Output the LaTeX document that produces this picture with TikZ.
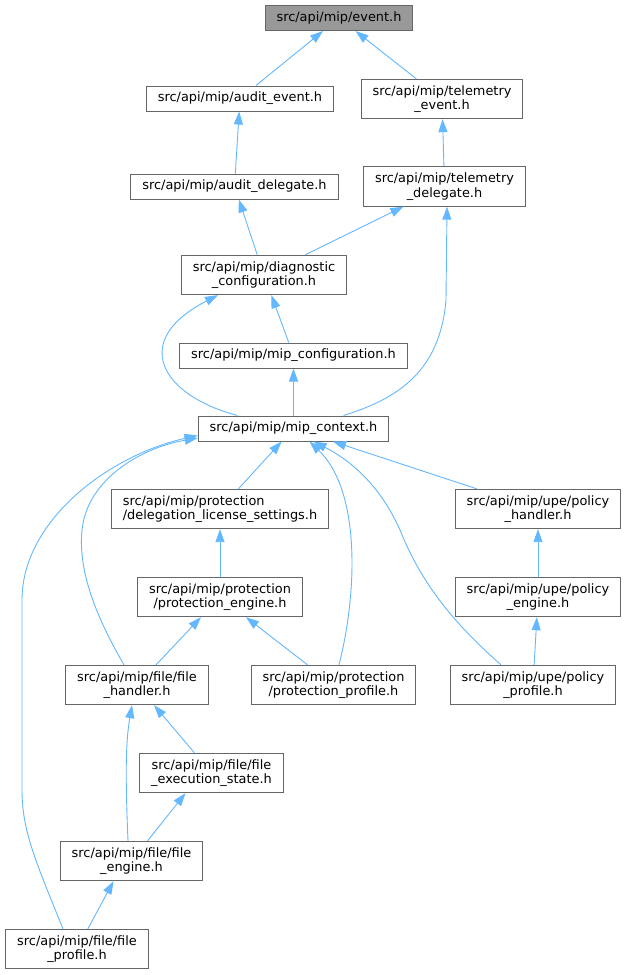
\documentclass[tikz,border=0pt]{standalone}
\usepackage{fontspec}
\setmainfont{DejaVu Sans}
\usepackage{xcolor}
\usetikzlibrary{arrows.meta}
\definecolor{edgeblue}{HTML}{63B8FF}
\definecolor{boxgray}{HTML}{666666}
\definecolor{rootfill}{HTML}{999999}

\begin{document}
\begin{tikzpicture}[x=1pt, y=-1pt,
    box/.style={draw=boxgray, line width=1pt, fill=white, inner xsep=11.5pt, inner ysep=6pt, minimum height=25pt, align=center, font=\fontsize{12.9}{14.5}\selectfont},
    rootbox/.style={box, fill=rootfill},
    dep/.style={-{Triangle[length=13pt, width=9pt, fill=edgeblue]}, draw=edgeblue, line width=0.9pt}
]
    \fill[white] (0,0) rectangle (625,975);
    \useasboundingbox (0,0) rectangle (625,975);

    % Headers (top to bottom)
    \node[rootbox] (event) at (339,18) {src/api/mip/event.h};
    \node[box] (aevt) at (240,98.5) {src/api/mip/audit\_event.h};
    \node[box] (tevt) at (442,99) {src/api/mip/telemetry\\\_event.h};
    \node[box] (adel) at (234.5,186.5) {src/api/mip/audit\_delegate.h};
    \node[box] (tdel) at (444.5,186.5) {src/api/mip/telemetry\\\_delegate.h};
    \node[box] (diag) at (264,275) {src/api/mip/diagnostic\\\_configuration.h};
    \node[box] (mcfg) at (293.5,355.5) {src/api/mip/mip\_configuration.h};
    \node[box] (ctx) at (293.5,428.5) {src/api/mip/mip\_context.h};
    \node[box, align=left] (dls) at (220,509) {src/api/mip/protection\\/delegation\_license\_settings.h};
    \node[box] (phdl) at (538,509) {src/api/mip/upe/policy\\\_handler.h};
    \node[box] (peng) at (220,597) {src/api/mip/protection\\/protection\_engine.h};
    \node[box] (ueng) at (538,597) {src/api/mip/upe/policy\\\_engine.h};
    \node[box] (fhdl) at (137,685) {src/api/mip/file/file\\\_handler.h};
    \node[box] (pprof) at (333.5,685) {src/api/mip/protection\\/protection\_profile.h};
    \node[box] (uprof) at (533,685) {src/api/mip/upe/policy\\\_profile.h};
    \node[box] (fexec) at (211.5,773) {src/api/mip/file/file\\\_execution\_state.h};
    \node[box] (feng) at (131.5,861) {src/api/mip/file/file\\\_engine.h};
    \node[box] (fprof) at (77,949) {src/api/mip/file/file\\\_profile.h};

    % Straight includes
    \draw[dep] (aevt) -- (event);
    \draw[dep] (tevt) -- (event);
    \draw[dep] (adel) -- (aevt);
    \draw[dep] (tdel) -- (tevt);
    \draw[dep] (diag) -- (adel);
    \draw[dep] (diag) -- (tdel);
    \draw[dep] (mcfg) -- (diag);
    \draw[dep] (ctx) -- (mcfg);
    \draw[dep] (dls) -- (ctx);
    \draw[dep] (phdl) -- (ctx);
    \draw[dep] (peng) -- (dls);
    \draw[dep] (ueng) -- (phdl);
    \draw[dep] (fhdl) -- (peng);
    \draw[dep] (pprof) -- (peng);
    \draw[dep] (uprof) -- (ueng);
    \draw[dep] (fexec) -- (fhdl);
    \draw[dep] (feng) -- ([xshift=-26pt]fexec.south);
    \draw[dep] (fprof) -- ([xshift=-18pt]feng.south);

    % Curved includes
    \draw[dep] ([xshift=50pt]ctx.north) .. controls (400,398) and (440,370) .. (446,300) -- ([xshift=2.5pt]tdel.south);
    \draw[dep] ([xshift=-56pt]ctx.north) .. controls (160,395) and (130,340) .. ([xshift=-46pt]diag.south);
    \draw[dep] ([xshift=-13pt]fhdl.north) .. controls (95,615) and (78,570) .. (82,530) .. controls (87,480) and (140,448) .. ([yshift=3.5pt]ctx.south west);
    \draw[dep] ([xshift=-14pt]fprof.north) .. controls (35,860) and (22,830) .. (22,790) -- (22,600) .. controls (22,520) and (110,455) .. ([yshift=6pt]ctx.south west);
    \draw[dep] ([xshift=5.5pt]pprof.north) .. controls (358,590) and (360,490) .. ([xshift=16pt]ctx.south);
    \draw[dep] ([xshift=-32pt]uprof.north) .. controls (450,620) and (420,580) .. (400,530) .. controls (380,485) and (350,460) .. ([xshift=20pt]ctx.south);
    \draw[dep] ([xshift=-3.5pt]feng.north) .. controls (125,770) and (126,740) .. ([xshift=-5pt]fhdl.south);
\end{tikzpicture}
\end{document}
